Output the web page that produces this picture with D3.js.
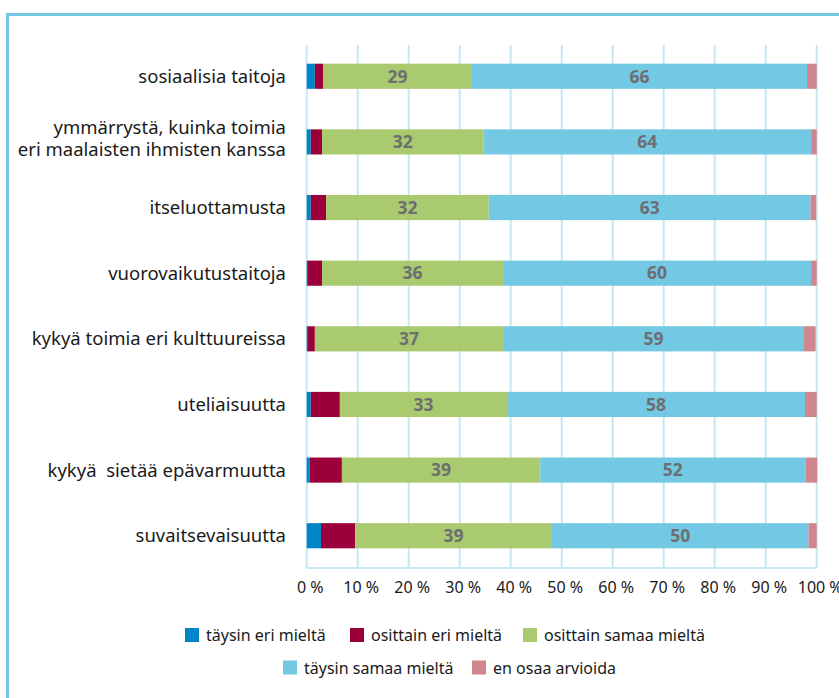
<!DOCTYPE html>
<html>
<head>
<meta charset="utf-8">
<script src="https://cdn.jsdelivr.net/npm/d3@7"></script>
<style>
  body { margin: 0; background: #fff; }
  svg { display: block; font-family: "Noto Sans", "Open Sans", sans-serif; }
</style>
</head>
<body>
<svg id="chart" width="839" height="698"></svg>
<script>
// categories (top to bottom)
var categories = [
  "sosiaalisia taitoja",
  "ymmärrystä, kuinka toimia\neri maalaisten ihmisten kanssa",
  "itseluottamusta",
  "vuorovaikutustaitoja",
  "kykyä toimia eri kulttuureissa",
  "uteliaisuutta",
  "kykyä  sietää epävarmuutta",
  "suvaitsevaisuutta"
];

// series values, percent
var taysinEri     = [1.6, 0.8, 0.8, 0.1, 0.1, 0.8, 0.6, 2.8];
var osittainEri   = [1.6, 2.2, 3.0, 2.9, 1.5, 5.7, 6.3, 6.7];
var osittainSamaa = [29.2, 31.7, 31.9, 35.5, 36.9, 32.8, 38.9, 38.6];
var taysinSamaa   = [65.7, 64.2, 63.1, 60.4, 59.0, 58.4, 52.0, 50.3];
var enOsaa        = [1.9, 1.1, 1.1, 1.1, 2.3, 2.3, 2.3, 1.6];

var seriesNames = ["täysin eri mieltä", "osittain eri mieltä", "osittain samaa mieltä",
                   "täysin samaa mieltä", "en osaa arvioida"];
var seriesColors = ["#0085c8", "#9b003a", "#a9ca6f", "#73c8e3", "#d0868f"];
var labelled = [false, false, true, true, false];

var xTicks = [0, 10, 20, 30, 40, 50, 60, 70, 80, 90, 100];

(function(){
    var svg = d3.select("#chart");

    //frame round the figure
    svg.append("line").attr("x1", 7.5).attr("x2", 839).attr("y1", 14.5).attr("y2", 14.5)
        .attr("stroke", "#74c8e3").attr("stroke-width", 3);
    svg.append("line").attr("x1", 7.5).attr("x2", 7.5).attr("y1", 13).attr("y2", 698)
        .attr("stroke", "#74c8e3").attr("stroke-width", 3);

    var x = d3.scaleLinear().domain([0, 100]).range([306.7, 816.7]);
    var y = d3.scaleBand().domain(categories).range([44, 568])
        .paddingInner(0.617).paddingOuter(0.3);

    //build table for the stack
    var table = categories.map(function(c, i){
        return { cat: c, s0: taysinEri[i], s1: osittainEri[i], s2: osittainSamaa[i],
                 s3: taysinSamaa[i], s4: enOsaa[i] };
    });
    var stack = d3.stack().keys(["s0", "s1", "s2", "s3", "s4"])(table);

    //grid
    svg.append("g").selectAll("line")
        .data(xTicks).enter().append("line")
        .attr("x1", function(d){ return x(d); })
        .attr("x2", function(d){ return x(d); })
        .attr("y1", 45).attr("y2", 568)
        .attr("stroke", "#c8e7f3").attr("stroke-width", 2);
    svg.append("line")
        .attr("x1", x(0)).attr("x2", x(100)).attr("y1", 568).attr("y2", 568)
        .attr("stroke", "#c8e7f3").attr("stroke-width", 2);

    //x axis labels
    var xAxis = d3.axisBottom(x).tickValues(xTicks).tickSize(0).tickPadding(0)
        .tickFormat(function(d){ return d + " %"; });
    var axis = svg.append("g").attr("transform", "translate(3,582)").call(xAxis);
    axis.select(".domain").remove();
    axis.selectAll("text").attr("font-size", "16px").attr("fill", "#1a1a1a")
        .attr("font-family", "Noto Sans, sans-serif");

    //bars
    var groups = svg.append("g").selectAll("g")
        .data(stack).enter().append("g")
        .attr("fill", function(d, i){ return seriesColors[i]; });

    groups.selectAll("rect")
        .data(function(d){ return d; }).enter().append("rect")
        .attr("x", function(d){ return x(d[0]); })
        .attr("y", function(d){ return y(d.data.cat); })
        .attr("width", function(d){ return x(d[1]) - x(d[0]); })
        .attr("height", y.bandwidth());

    //value labels
    groups.filter(function(d, i){ return labelled[i]; })
        .selectAll("text")
        .data(function(d){ return d; }).enter().append("text")
        .attr("x", function(d){ return (x(d[0]) + x(d[1])) / 2; })
        .attr("y", function(d){ return y(d.data.cat) + y.bandwidth() / 2; })
        .attr("dy", "0.36em")
        .attr("text-anchor", "middle")
        .attr("font-size", "17.5px")
        .attr("font-weight", "bold")
        .attr("fill", "#6d6e72")
        .text(function(d){ return Math.round(d[1] - d[0]); });

    //category labels
    var catLabels = svg.append("g").selectAll("text")
        .data(categories).enter().append("text")
        .attr("x", 286)
        .attr("text-anchor", "end")
        .attr("font-size", "18.5px")
        .attr("fill", "#1a1a1a")
        .style("white-space", "pre")
        .attr("y", function(d){ return y(d) + y.bandwidth() / 2; });
    catLabels.each(function(d){
        var lines = d.split("\n");
        var t = d3.select(this);
        lines.forEach(function(line, k){
            t.append("tspan").attr("x", 286)
                .attr("dy", lines.length === 1 ? 6.5 : (k === 0 ? -7.5 : 22))
                .text(line);
        });
    });

    //legend
    var legendPos = [
        { x: 185, y: 628 }, { x: 350, y: 628 }, { x: 523, y: 628 },
        { x: 283, y: 660.5 }, { x: 472, y: 660.5 }
    ];
    var legend = svg.append("g").selectAll("g")
        .data(seriesNames).enter().append("g")
        .attr("transform", function(d, i){ return "translate(" + legendPos[i].x + "," + legendPos[i].y + ")"; });
    legend.append("rect").attr("width", 14).attr("height", 14)
        .attr("fill", function(d, i){ return seriesColors[i]; });
    legend.append("text").attr("x", 21).attr("y", 13)
        .attr("font-size", "16px").attr("fill", "#1a1a1a")
        .text(function(d){ return d; });
})();
</script>
</body>
</html>
